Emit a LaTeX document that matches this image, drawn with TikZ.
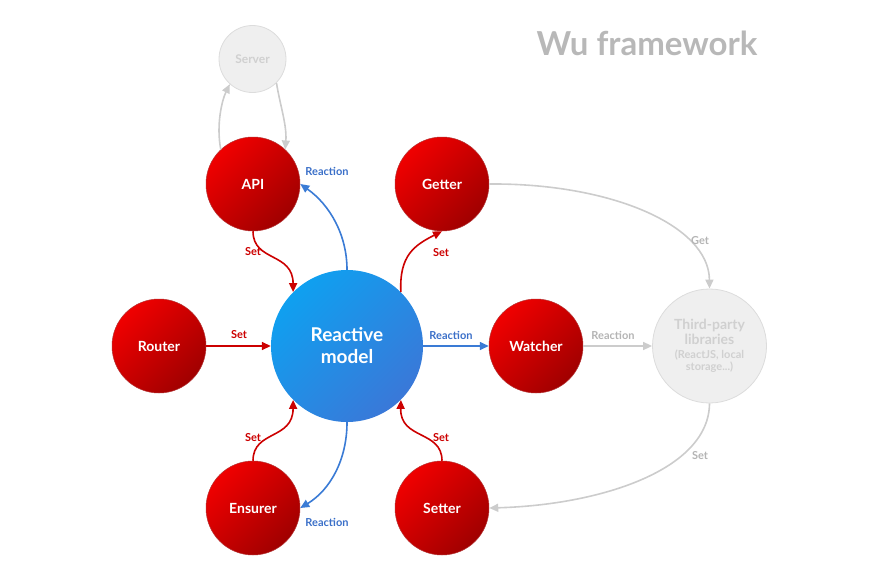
\documentclass[tikz,border=0pt]{standalone}
\usepackage{fontspec}
\setmainfont{Lato}
\usetikzlibrary{arrows.meta}
\definecolor{redA}{HTML}{F00000}
\definecolor{redB}{HTML}{A00000}
\definecolor{redLine}{HTML}{CC0000}
\definecolor{blueA}{HTML}{0FA0F0}
\definecolor{blueB}{HTML}{3A78D8}
\definecolor{blueLine}{HTML}{3A7BD5}
\definecolor{blueText}{HTML}{3A6FC8}
\definecolor{grayFill}{HTML}{EFEFEF}
\definecolor{grayBorder}{HTML}{DCDCDC}
\definecolor{grayText}{HTML}{D0D0D0}
\definecolor{grayLine}{HTML}{CCCCCC}
\definecolor{grayLabel}{HTML}{B4B4B4}
\definecolor{titleGray}{HTML}{B8B8B8}
\begin{document}
\begin{tikzpicture}[x=1pt,y=-1pt,
  rednode/.style={circle, minimum size=94pt, inner sep=0pt, draw=redB!80!white, line width=0.5pt,
    top color=redA, bottom color=redB, shading angle=45,
    text=white, font=\fontsize{14}{16}\selectfont\bfseries},
  bluenode/.style={circle, minimum size=152pt, inner sep=0pt,
    top color=blueA, bottom color=blueB, shading angle=45,
    text=white, font=\fontsize{19}{23}\selectfont\bfseries, align=center},
  graynode/.style={circle, inner sep=0pt, fill=grayFill, draw=grayBorder, line width=0.8pt,
    text=grayText, align=center},
  redarrow/.style={draw=redLine, line width=1.6pt, -{Triangle[length=9pt,width=8pt]}},
  bluearrow/.style={draw=blueLine, line width=1.6pt, -{Triangle[length=9pt,width=8pt]}},
  grayarrow/.style={draw=grayLine, line width=1.6pt, -{Triangle[length=9pt,width=8pt]}},
  redlabel/.style={text=redLine, font=\fontsize{11}{13}\selectfont\bfseries, inner sep=1pt},
  bluelabel/.style={text=blueText, font=\fontsize{11}{13}\selectfont\bfseries, inner sep=1pt},
  graylabel/.style={text=grayLabel, font=\fontsize{11}{13}\selectfont\bfseries, inner sep=1pt}
]
\useasboundingbox (0,0) rectangle (882,581);

\node[text=titleGray, font=\fontsize{33}{38}\selectfont\bfseries] (title) at (647,43) {Wu framework};

\node[bluenode] (rm) at (347,346) {Reactive\\[-1pt]model};
\node[rednode] (api) at (253,184) {API};
\node[rednode] (getter) at (442,184) {Getter};
\node[rednode] (router) at (159,346) {Router};
\node[rednode] (watcher) at (536,346) {Watcher};
\node[rednode] (ensurer) at (253,508) {Ensurer};
\node[rednode] (setter) at (442,508) {Setter};
\node[graynode, minimum size=67pt, font=\fontsize{12}{14}\selectfont\bfseries] (server) at (252.5,59) {Server};
\node[graynode, minimum size=114pt] (third) at (709.5,346)
  {{\fontsize{14}{16}\selectfont\bfseries Third-party}\\[1pt]{\fontsize{14}{16}\selectfont\bfseries libraries}\\[2pt]{\fontsize{11}{13}\selectfont\bfseries (ReactJS, local}\\[0pt]{\fontsize{11}{13}\selectfont\bfseries storage...)}};

% gray server links
\draw[grayarrow] (api.133) .. controls (216,125) and (222,100) .. (server.228);
\draw[grayarrow] (server.-45) .. controls (280,105) and (287,125) .. (api.47);

% API <-> reactive
\draw[redarrow] (api.south) .. controls (253,262) and (293,252) .. (rm.135);
\node[redlabel] (l1) at (253,252) {Set};
\draw[bluearrow] (rm.90) .. controls (347,235) and (330,205) .. (api.east);
\node[bluelabel] (l2) at (327,171) {Reaction};

% reactive -> getter
\draw[redarrow] (rm.45) .. controls (399,255) and (415,245) .. (getter.south);
\node[redlabel] (l3) at (441,253) {Set};

% getter -> third
\draw[grayarrow] (getter.east) .. controls (610,183) and (709,225) .. (third.north);
\node[graylabel] (l4) at (700,241) {Get};

% router -> reactive
\draw[redarrow] (router.east) -- (rm.west);
\node[redlabel] (l5) at (239,335) {Set};

% reactive -> watcher
\draw[bluearrow] (rm.east) -- (watcher.west);
\node[bluelabel] (l6) at (451,335) {Reaction};

% watcher -> third
\draw[grayarrow] (watcher.east) -- (third.west);
\node[graylabel] (l7) at (613,335) {Reaction};

% third -> setter
\draw[grayarrow] (third.south) .. controls (709,470) and (600,505) .. (setter.east);
\node[graylabel] (l8) at (700,456) {Set};

% ensurer <-> reactive
\draw[redarrow] (ensurer.north) .. controls (253,430) and (293,440) .. (rm.225);
\node[redlabel] (l9) at (253,438) {Set};
\draw[bluearrow] (rm.270) .. controls (347,460) and (330,490) .. (ensurer.east);
\node[bluelabel] (l10) at (327,522) {Reaction};

% setter -> reactive
\draw[redarrow] (setter.north) .. controls (442,430) and (400,440) .. (rm.315);
\node[redlabel] (l11) at (441,438) {Set};
\end{tikzpicture}
\end{document}
